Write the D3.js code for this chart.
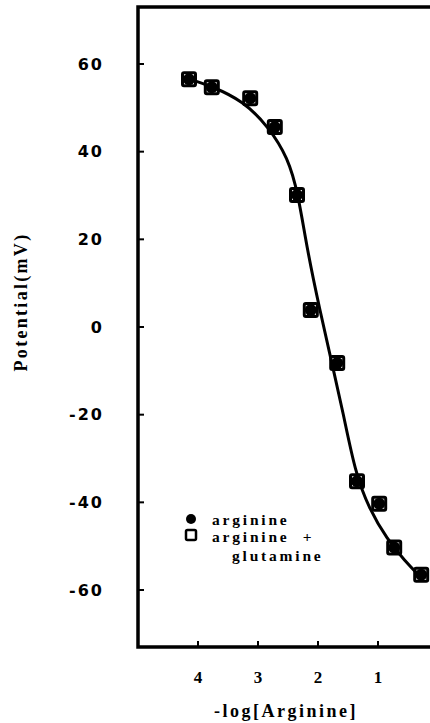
<!DOCTYPE html>
<html>
<head>
<meta charset="utf-8">
<script src="https://cdn.jsdelivr.net/npm/d3@7/dist/d3.min.js"></script>
<style>
  html, body { margin: 0; padding: 0; background: #fff; }
  svg { display: block; }
</style>
</head>
<body>
<svg id="chart" width="430" height="723"></svg>
<script>
// -log[Arginine] concentrations of the measured points
const logConc = [4.15, 3.77, 3.13, 2.72, 2.35, 2.12, 1.68, 1.35, 0.98, 0.73, 0.28];
// electrode potential (mV), arginine alone
const potArginine = [56.5, 54.7, 52.2, 45.6, 30.1, 3.9, -8.2, -35.2, -40.3, -50.3, -56.5];
// electrode potential (mV), arginine + glutamine
const potArgGlutamine = [56.5, 54.7, 52.2, 45.6, 30.1, 3.9, -8.2, -35.2, -40.3, -50.3, -56.5];

// fitted response curve (spline control points)
const fitConc = [4.15, 3.77, 3.25, 2.82, 2.50, 2.33, 2.18, 1.97, 1.77, 1.58, 1.38, 1.15, 0.85, 0.55, 0.30];
const fitPot  = [56.6, 54.9, 51.6, 45.6, 38.6, 30.4, 17.6, 3.9, -8.2, -19.6, -33.2, -41.4, -48.4, -53.4, -56.9];

const yTicks = [60, 40, 20, 0, -20, -40, -60];
const xTicks = [4, 3, 2, 1];
const legendLabels = ["arginine", "arginine  +", "glutamine"];

const svg = d3.select("#chart");
const plotLeft = 138, plotTop = 7, plotBottom = 647;

const x = d3.scaleLinear().domain([5, 0]).range([plotLeft, 438]);
const y = d3.scaleLinear().domain([-73, 73]).range([plotBottom, plotTop]);

const ink = "#000";

// frame: left axis, bottom axis, top border
svg.append("path")
  .attr("d", `M430,${plotTop}H${plotLeft}V${plotBottom}H430`)
  .attr("fill", "none").attr("stroke", ink).attr("stroke-width", 3.5);

// y ticks pointing inward
svg.append("g").selectAll("line").data(yTicks).join("line")
  .attr("x1", plotLeft).attr("x2", plotLeft + 6)
  .attr("y1", d => y(d)).attr("y2", d => y(d))
  .attr("stroke", ink).attr("stroke-width", 2);

svg.append("g").selectAll("text").data(yTicks).join("text")
  .attr("x", 104).attr("y", d => y(d))
  .attr("dy", "0.36em")
  .attr("text-anchor", "end")
  .attr("font-family", "DejaVu Sans, sans-serif")
  .attr("font-weight", "bold")
  .attr("font-size", 16)
  .attr("letter-spacing", 2)
  .attr("fill", ink)
  .text(d => d < 0 ? "-" + Math.abs(d) : d);

// x ticks pointing inward
svg.append("g").selectAll("line").data(xTicks).join("line")
  .attr("x1", d => x(d)).attr("x2", d => x(d))
  .attr("y1", plotBottom).attr("y2", plotBottom - 6)
  .attr("stroke", ink).attr("stroke-width", 2);

svg.append("g").selectAll("text").data(xTicks).join("text")
  .attr("x", d => x(d)).attr("y", 683)
  .attr("text-anchor", "middle")
  .attr("font-family", "Liberation Serif, serif")
  .attr("font-weight", "bold")
  .attr("font-size", 17)
  .attr("fill", ink)
  .text(d => d);

// axis titles
svg.append("text")
  .attr("x", 286).attr("y", 717)
  .attr("text-anchor", "middle")
  .attr("font-family", "Liberation Serif, serif")
  .attr("font-weight", "bold")
  .attr("font-size", 18)
  .attr("letter-spacing", 2.5)
  .attr("fill", ink)
  .text("-log[Arginine]");

svg.append("text")
  .attr("transform", "translate(27,302) rotate(-90)")
  .attr("text-anchor", "middle")
  .attr("font-family", "Liberation Serif, serif")
  .attr("font-weight", "bold")
  .attr("font-size", 18)
  .attr("letter-spacing", 2.3)
  .attr("fill", ink)
  .text("Potential(mV)");

// fitted curve
const fit = fitConc.map((c, i) => [c, fitPot[i]]);
svg.append("path")
  .datum(fit)
  .attr("d", d3.line().x(d => x(d[0])).y(d => y(d[1])).curve(d3.curveBasis))
  .attr("fill", "none").attr("stroke", ink).attr("stroke-width", 3);

// arginine + glutamine: open squares
svg.append("g").selectAll("rect").data(logConc.map((c, i) => [c, potArgGlutamine[i]])).join("rect")
  .attr("x", d => x(d[0]) - 6.5).attr("y", d => y(d[1]) - 6.5)
  .attr("width", 13).attr("height", 13).attr("rx", 1.5)
  .attr("fill", "none").attr("stroke", ink).attr("stroke-width", 3);

// arginine: filled circles
svg.append("g").selectAll("circle").data(logConc.map((c, i) => [c, potArginine[i]])).join("circle")
  .attr("cx", d => x(d[0])).attr("cy", d => y(d[1]))
  .attr("r", 6).attr("fill", ink);

// legend
const legend = svg.append("g");
legend.append("circle").attr("cx", 191).attr("cy", 519).attr("r", 5).attr("fill", ink);
legend.append("rect").attr("x", 186).attr("y", 530).attr("width", 10).attr("height", 10).attr("rx", 1.5)
  .attr("fill", "none").attr("stroke", ink).attr("stroke-width", 2.5);
legend.selectAll("text").data(legendLabels).join("text")
  .attr("x", (d, i) => i === 2 ? 232 : 212)
  .attr("y", (d, i) => [525, 542, 561][i])
  .attr("xml:space", "preserve")
  .attr("font-family", "Liberation Serif, serif")
  .attr("font-weight", "bold")
  .attr("font-size", 15.5)
  .attr("letter-spacing", 2.8)
  .attr("fill", ink)
  .text(d => d);
</script>
</body>
</html>
